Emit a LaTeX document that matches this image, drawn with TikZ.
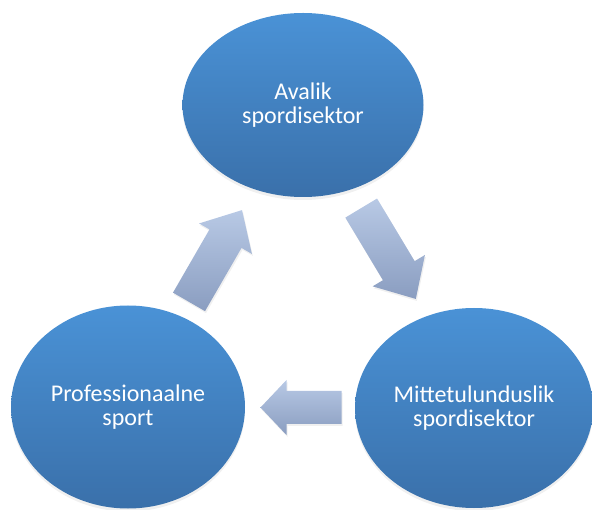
\documentclass[tikz,border=0pt]{standalone}
\usepackage{fontspec}
\setmainfont{Carlito}
\usetikzlibrary{shapes.geometric,calc,shadows}

\definecolor{kreisoben}{RGB}{74,146,214}
\definecolor{kreisunten}{RGB}{58,112,170}
\definecolor{nooloben}{RGB}{184,201,229}
\definecolor{noolunten}{RGB}{138,157,192}

\begin{document}
\begin{tikzpicture}[
      x=1pt, y=1pt,
      sektor/.style={
        ellipse,
        top color=kreisoben,
        bottom color=kreisunten,
        text=white,
        align=center,
        font=\fontsize{24}{24.5}\selectfont,
        inner sep=0pt,
        drop shadow={opacity=0.12, shadow xshift=0pt, shadow yshift=-3pt}
      },
      nool/.style={
        top color=nooloben,
        bottom color=noolunten,
        drop shadow={opacity=0.12, shadow xshift=1pt, shadow yshift=-2pt}
      }
    ]
    \useasboundingbox (0,0) rectangle (592,509);

    \node[sektor, minimum width=241pt, minimum height=184pt] (avalik) at (303,404) {Avalik\\spordisektor} ;
    \node[sektor, minimum width=238pt, minimum height=200pt] (mtu)    at (474,101) {Mittetulunduslik\\spordisektor} ;
    \node[sektor, minimum width=234pt, minimum height=203pt] (profi)  at (128,102) {Professionaalne\\sport} ;

    % nooled ringide vahel
    \path[nool, shift={($(profi)!0.5!(avalik)$)}, rotate=60]
      (-53,-18.5) -- (20,-18.5) -- (20,-30.5) -- (53,0) -- (20,30.5) -- (20,18.5) -- (-53,18.5) -- cycle ;
    \path[nool, shift={($(avalik)!0.5!(mtu)+(0,3)$)}, rotate=-59]
      (-53,-18.5) -- (20,-18.5) -- (20,-30.5) -- (53,0) -- (20,30.5) -- (20,18.5) -- (-53,18.5) -- cycle ;
    \path[nool, shift={($(mtu)!0.5!(profi)$)}, rotate=180]
      (-40.5,-16.5) -- (14.5,-16.5) -- (14.5,-27.5) -- (40.5,0) -- (14.5,27.5) -- (14.5,16.5) -- (-40.5,16.5) -- cycle ;
  \end{tikzpicture}
\end{document}
